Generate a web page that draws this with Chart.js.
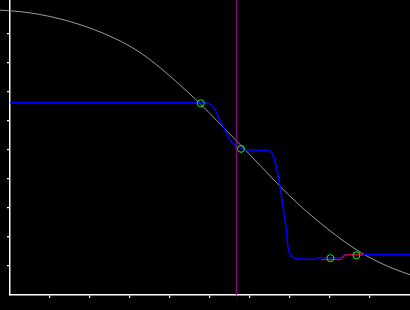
<!DOCTYPE html>
<html>
<head>
<meta charset="utf-8">
<script src="https://cdn.jsdelivr.net/npm/chart.js@4/dist/chart.umd.min.js"></script>
<style>
  html, body { margin: 0; padding: 0; background: #000; }
  canvas { display: block; }
</style>
</head>
<body>
<canvas id="chart" width="410" height="310"></canvas>
<script>
// smooth reference curve (gray)
const grayX = [-0.25, 0.25, 0.75, 1.25, 1.75, 2.25, 2.75, 3.25, 3.75, 4.25, 4.75, 5.25, 5.75, 6.25, 6.75, 7.25, 7.75, 8.25, 8.75, 9.25, 9.75, 10];
const grayY = [9.82, 9.77, 9.67, 9.52, 9.32, 9.07, 8.76, 8.36, 7.84, 7.24, 6.60, 5.90, 5.19, 4.47, 3.75, 3.08, 2.49, 1.95, 1.48, 1.11, 0.82, 0.70];

// stepped fit (blue)
const blueX = [0, 4.875, 5.075, 5.25, 5.375, 5.5, 5.625, 5.75, 5.875, 6.45, 6.575, 6.675, 6.75, 6.825, 6.9, 6.95, 7.05, 7.175, 7.625, 7.7, 8.25, 8.325, 8.4, 10];
const blueY = [6.63, 6.63, 6.48, 6.03, 5.69, 5.34, 5.17, 5.07, 5.0, 4.98, 4.83, 4.31, 3.72, 3.03, 2.34, 1.66, 1.31, 1.26, 1.23, 1.28, 1.28, 1.34, 1.40, 1.40];

// local segment (red)
const redX = [7.775, 8.25, 8.325, 8.4, 8.825];
const redY = [1.22, 1.22, 1.31, 1.38, 1.38];

// sample markers (green circles)
const markerX = [4.77, 5.775, 8.01, 8.66];
const markerY = [6.61, 5.04, 1.27, 1.37];

// vertical cut (purple)
const cutX = 5.66;
const yTop = 10.17;

const pts = (xs, ys) => xs.map((x, i) => ({ x, y: ys[i] }));

function tickColor(ctx) {
  const v = ctx.tick ? ctx.tick.value : null;
  return (v === 0 || v >= 10) ? 'rgba(0,0,0,0)' : '#ffffff';
}

new Chart(document.getElementById('chart'), {
  type: 'line',
  data: {
    datasets: [
      {
        data: pts(grayX, grayY),
        order: 5,
        borderColor: '#9a9a9a',
        borderWidth: 1,
        pointRadius: 0,
        cubicInterpolationMode: 'monotone',
        clip: { left: 10, top: 0, right: 0, bottom: 0 }
      },
      {
        data: pts(blueX, blueY),
        order: 4,
        borderColor: '#0000ff',
        borderWidth: 1.5,
        pointRadius: 0,
        cubicInterpolationMode: 'monotone'
      },
      {
        data: pts(redX, redY),
        order: 3,
        borderColor: '#ee0000',
        borderWidth: 1.3,
        pointRadius: 0,
        cubicInterpolationMode: 'monotone'
      },
      {
        data: pts([cutX, cutX], [0, yTop]),
        order: 2,
        borderColor: '#8a008a',
        borderWidth: 1.2,
        pointRadius: 0
      },
      {
        data: pts(markerX, markerY),
        order: 1,
        showLine: false,
        pointRadius: 3.5,
        pointBorderWidth: 1,
        pointBorderColor: '#00ff00',
        pointBackgroundColor: 'rgba(0,0,0,0)'
      }
    ]
  },
  options: {
    responsive: false,
    animation: false,
    events: [],
    layout: { padding: 0, autoPadding: false },
    plugins: { legend: { display: false }, tooltip: { enabled: false } },
    scales: {
      x: {
        type: 'linear',
        min: 0,
        max: 10,
        afterFit: (s) => { s.height = 15; },
        ticks: { display: false, stepSize: 1 },
        grid: { drawOnChartArea: false, tickLength: 3, color: tickColor, lineWidth: 1.2 },
        border: { display: true, color: '#ffffff', width: 1.5 }
      },
      y: {
        type: 'linear',
        min: 0,
        max: yTop,
        afterFit: (s) => { s.width = 10; },
        ticks: { display: false, stepSize: 1, includeBounds: false },
        grid: { drawOnChartArea: false, tickLength: 3, color: tickColor, lineWidth: 1.2 },
        border: { display: true, color: '#ffffff', width: 1.5 }
      }
    }
  }
});
</script>
</body>
</html>
